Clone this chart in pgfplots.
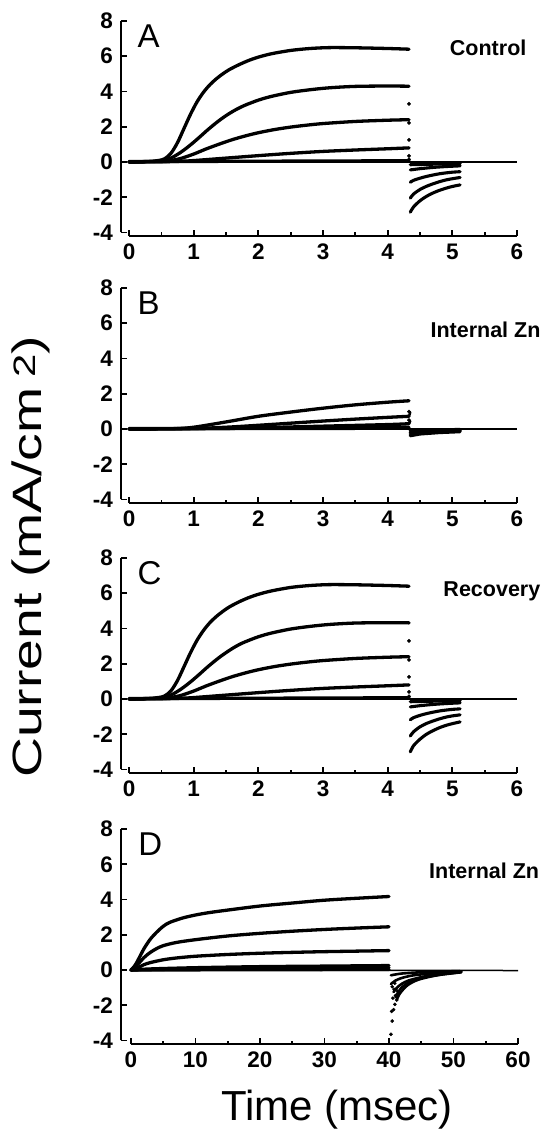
\documentclass[border=0pt]{standalone}
\usepackage{graphicx}
\usepackage{pgfplots}
\pgfplotsset{compat=1.18}
\usepackage{fontspec}
\setmainfont{Liberation Sans}
\newcommand\tickfont{\fontsize{22.5}{22.5}\selectfont\bfseries}
\newcommand\tagfont{\fontsize{21.5}{21.5}\selectfont\bfseries}
\newcommand\letterfont{\fontsize{33}{33}\selectfont}
\begin{document}
\begin{tikzpicture}
\pgfplotsset{
 panel/.style={
  scale only axis, width=396pt, height=215pt,
  xmin=-0.124, xmax=6, ymin=-4.2, ymax=8,
  axis x line*=bottom, axis y line*=left,
  axis line style={draw=none},
  tick align=inside,
  xtick={0,1,2,3,4,5,6}, xticklabels={0,1,2,3,4,5,6},
  minor xtick={0.5,1.5,2.5,3.5,4.5,5.5},
  ytick={-4,-2,0,2,4,6,8}, yticklabels={-4,-2,0,2,4,6,8},
  major tick length=6pt, minor tick length=3.5pt,
  tick style={black, line width=1.7pt},
  ticklabel style={font=\tickfont, inner sep=0pt},
  xticklabel style={anchor=north, yshift=-8pt},
  yticklabel style={anchor=east, xshift=-8pt},
  clip=false,
  anchor=north west,
 },
 curve/.style={black, line width=3.3pt, line join=round, line cap=round, mark=none, smooth, tension=0.5},
 seg/.style={black, line width=3.3pt, line join=round, line cap=round, mark=none},
 tail/.style={black, line width=3.1pt, line join=round, line cap=round, mark=none, smooth, tension=0.5},
 base/.style={black, line width=1.5pt, mark=none},
 dots/.style={black, only marks, mark=*, mark size=1.7pt},
}
\path[use as bounding box] (-121pt,21pt) rectangle (425pt,-1109pt);

% ---------------- Panel A ----------------
\begin{axis}[panel, at={(0pt,0pt)}]
\addplot[base] coordinates {(0,0)(6,0)};
\addplot[curve] coordinates {(0,0)(0.3,0.03)(0.45,0.08)(0.55,0.18)(0.65,0.5)(0.75,1.1)(0.85,1.9)(0.95,2.7)(1.05,3.4)(1.15,3.95)(1.25,4.38)(1.35,4.72)(1.45,5.0)(1.55,5.24)(1.7,5.52)(1.85,5.76)(2.0,5.95)(2.2,6.14)(2.5,6.33)(2.8,6.44)(3.1,6.49)(3.5,6.48)(4.0,6.44)(4.33,6.4)};
\addplot[curve] coordinates {(0,0)(0.5,0.05)(0.6,0.15)(0.7,0.32)(0.8,0.55)(0.9,0.82)(1.0,1.12)(1.1,1.44)(1.2,1.77)(1.3,2.08)(1.4,2.37)(1.5,2.63)(1.6,2.86)(1.7,3.06)(1.8,3.23)(2.0,3.51)(2.2,3.72)(2.5,3.95)(2.8,4.1)(3.1,4.21)(3.5,4.29)(4.0,4.31)(4.33,4.3)};
\addplot[curve] coordinates {(0,0)(0.5,0.02)(0.6,0.05)(0.8,0.2)(1.0,0.45)(1.2,0.75)(1.4,1.02)(1.6,1.27)(1.8,1.48)(2.0,1.66)(2.25,1.84)(2.5,1.98)(2.75,2.09)(3.0,2.18)(3.5,2.3)(4.0,2.37)(4.33,2.4)};
\addplot[curve] coordinates {(0,0)(0.6,0.02)(0.8,0.04)(1.0,0.08)(1.5,0.22)(2.0,0.36)(2.5,0.49)(3.0,0.6)(3.5,0.68)(4.0,0.75)(4.33,0.8)};
\addplot[seg] coordinates {(0,0.02)(4.33,0.07)};
\addplot[dots] coordinates {(4.33,3.3)(4.33,2.22)(4.33,1.25)(4.33,0.35)(4.33,0.15)};
\addplot[tail] coordinates {(4.35,-2.85)(4.4,-2.55)(4.5,-2.2)(4.6,-1.95)(4.7,-1.76)(4.8,-1.61)(4.9,-1.49)(5.0,-1.39)(5.12,-1.3)};
\addplot[tail] coordinates {(4.35,-2.05)(4.4,-1.82)(4.5,-1.56)(4.6,-1.38)(4.7,-1.24)(4.8,-1.12)(4.9,-1.02)(5.0,-0.95)(5.12,-0.88)};
\addplot[tail] coordinates {(4.35,-1.15)(4.4,-1.04)(4.5,-0.92)(4.6,-0.82)(4.7,-0.74)(4.8,-0.67)(4.9,-0.62)(5.0,-0.58)(5.12,-0.55)};
\addplot[tail] coordinates {(4.35,-0.45)(4.5,-0.38)(4.7,-0.31)(4.9,-0.26)(5.12,-0.22)};
\addplot[seg] coordinates {(4.35,-0.15)(4.7,-0.12)(5.12,-0.1)};
\draw[line width=1.7pt] (axis cs:0,-4.2) -- (axis cs:6,-4.2);
\draw[line width=1.7pt] (axis cs:-0.124,-4) -- (axis cs:-0.124,8);
\node[anchor=north west, inner sep=0pt, font=\letterfont] at (axis cs:0.13,7.8) {A};
\node[anchor=north west, inner sep=0pt, font=\tagfont] at (axis cs:4.96,6.95) {Control};
\end{axis}

% ---------------- Panel B ----------------
\begin{axis}[panel, at={(0pt,-267pt)}]
\addplot[base] coordinates {(0,0)(6,0)};
\addplot[curve] coordinates {(0,0)(0.7,0.02)(1.0,0.1)(1.5,0.4)(2.0,0.72)(2.5,0.96)(3.0,1.18)(3.5,1.37)(4.0,1.52)(4.33,1.6)};
\addplot[curve] coordinates {(0,0)(1.0,0.03)(1.5,0.1)(2.0,0.21)(2.5,0.33)(3.0,0.45)(3.5,0.56)(4.0,0.66)(4.33,0.72)};
\addplot[seg, line width=2.4pt] coordinates {(4.33,0.72)(4.35,0.95)};
\addplot[curve] coordinates {(0,0)(1.5,0.03)(2.0,0.07)(3.0,0.16)(4.0,0.25)(4.33,0.3)};
\addplot[seg, line width=2.4pt] coordinates {(4.33,0.3)(4.35,0.45)};
\addplot[seg] coordinates {(0,0)(4.33,0.1)};
\addplot[seg] coordinates {(0,0.02)(4.33,0.04)};
\addplot[dots] coordinates {(4.33,0.98)(4.33,0.5)};
\addplot[seg] coordinates {(4.35,-0.38)(4.5,-0.28)(4.8,-0.2)(5.12,-0.15)};
\addplot[seg] coordinates {(4.35,-0.28)(4.6,-0.18)(5.12,-0.1)};
\addplot[seg] coordinates {(4.35,-0.18)(5.12,-0.06)};
\addplot[seg] coordinates {(4.35,-0.1)(5.12,-0.03)};
\draw[line width=1.7pt] (axis cs:0,-4.2) -- (axis cs:6,-4.2);
\draw[line width=1.7pt] (axis cs:-0.124,-4) -- (axis cs:-0.124,8);
\node[anchor=north west, inner sep=0pt, font=\letterfont] at (axis cs:0.13,7.8) {B};
\node[anchor=north west, inner sep=0pt, font=\tagfont] at (axis cs:4.66,6.06) {Internal Zn};
\end{axis}

% ---------------- Panel C ----------------
\begin{axis}[panel, at={(0pt,-537pt)}]
\addplot[base] coordinates {(0,0)(6,0)};
\addplot[curve] coordinates {(0,0)(0.3,0.03)(0.45,0.08)(0.55,0.17)(0.65,0.47)(0.75,1.05)(0.85,1.83)(0.95,2.62)(1.05,3.32)(1.15,3.88)(1.25,4.33)(1.35,4.68)(1.45,4.97)(1.55,5.22)(1.7,5.51)(1.85,5.75)(2.0,5.94)(2.2,6.13)(2.5,6.33)(2.8,6.44)(3.1,6.49)(3.5,6.48)(4.0,6.44)(4.33,6.4)};
\addplot[curve] coordinates {(0,0)(0.5,0.05)(0.6,0.15)(0.7,0.32)(0.8,0.55)(0.9,0.82)(1.0,1.12)(1.1,1.44)(1.2,1.77)(1.3,2.08)(1.4,2.37)(1.5,2.63)(1.6,2.87)(1.7,3.08)(1.8,3.25)(2.0,3.53)(2.2,3.74)(2.5,3.97)(2.8,4.12)(3.1,4.23)(3.5,4.31)(4.0,4.33)(4.33,4.32)};
\addplot[curve] coordinates {(0,0)(0.5,0.02)(0.6,0.05)(0.8,0.2)(1.0,0.45)(1.2,0.75)(1.4,1.02)(1.6,1.27)(1.8,1.48)(2.0,1.66)(2.25,1.84)(2.5,1.98)(2.75,2.09)(3.0,2.18)(3.5,2.3)(4.0,2.37)(4.33,2.4)};
\addplot[curve] coordinates {(0,0)(0.6,0.02)(0.8,0.04)(1.0,0.08)(1.5,0.22)(2.0,0.36)(2.5,0.49)(3.0,0.6)(3.5,0.68)(4.0,0.75)(4.33,0.8)};
\addplot[seg] coordinates {(0,0.02)(4.33,0.07)};
\addplot[dots] coordinates {(4.33,3.3)(4.33,2.22)(4.33,1.25)(4.33,0.4)(4.33,0.15)};
\addplot[tail] coordinates {(4.35,-3.0)(4.4,-2.65)(4.5,-2.28)(4.6,-2.0)(4.7,-1.8)(4.8,-1.63)(4.9,-1.5)(5.0,-1.4)(5.12,-1.3)};
\addplot[tail] coordinates {(4.35,-2.1)(4.4,-1.86)(4.5,-1.58)(4.6,-1.39)(4.7,-1.25)(4.8,-1.13)(4.9,-1.03)(5.0,-0.96)(5.12,-0.9)};
\addplot[tail] coordinates {(4.35,-1.18)(4.4,-1.06)(4.5,-0.93)(4.6,-0.83)(4.7,-0.75)(4.8,-0.68)(4.9,-0.63)(5.0,-0.59)(5.12,-0.56)};
\addplot[tail] coordinates {(4.35,-0.45)(4.5,-0.38)(4.7,-0.31)(4.9,-0.26)(5.12,-0.22)};
\addplot[seg] coordinates {(4.35,-0.15)(4.7,-0.12)(5.12,-0.1)};
\draw[line width=1.7pt] (axis cs:0,-4.2) -- (axis cs:6,-4.2);
\draw[line width=1.7pt] (axis cs:-0.124,-4) -- (axis cs:-0.124,8);
\node[anchor=north west, inner sep=0pt, font=\letterfont] at (axis cs:0.13,7.8) {C};
\node[anchor=north west, inner sep=0pt, font=\tagfont] at (axis cs:4.86,6.68) {Recovery};
\end{axis}

% ---------------- Panel D ----------------
\begin{axis}[panel, at={(0pt,-808pt)}, width=397pt,
  xmin=-1.55, xmax=60,
  xtick={0,10,20,30,40,50,60}, xticklabels={0,10,20,30,40,50,60},
  minor xtick={5,15,25,35,45,55}]
\addplot[base] coordinates {(0,0)(60,-0.03)};
\addplot[curve] coordinates {(0,0)(0.5,0.2)(1,0.5)(2,1.2)(3,1.75)(4,2.15)(5,2.48)(6,2.7)(8,2.95)(10,3.12)(12,3.25)(15,3.4)(20,3.63)(25,3.8)(30,3.96)(35,4.07)(40,4.17)};
\addplot[curve] coordinates {(0,0)(1,0.3)(2,0.7)(3,1.0)(4,1.22)(5,1.38)(7,1.56)(10,1.72)(15,1.93)(20,2.08)(25,2.2)(30,2.3)(35,2.38)(40,2.45)};
\addplot[curve] coordinates {(0,0)(1,0.12)(2,0.3)(3,0.42)(5,0.58)(7,0.68)(10,0.78)(15,0.88)(20,0.95)(25,1.0)(30,1.04)(35,1.07)(40,1.1)};
\addplot[curve] coordinates {(0,0)(3,0.06)(10,0.13)(20,0.19)(30,0.22)(40,0.25)};
\addplot[seg] coordinates {(0,0)(10,0.07)(20,0.1)(40,0.13)};
\addplot[seg] coordinates {(0,0)(40,0.03)};
\addplot[dots, mark size=1.6pt] coordinates {(40.3,-3.65)(40.5,-2.9)(40.4,-2.35)(40.7,-2.25)(40.9,-1.95)(40.6,-1.6)(41.0,-1.45)(41.2,-1.7)(40.8,-1.1)(41.3,-1.2)(40.5,-0.95)(40.9,-0.75)};
\addplot[tail, line width=2.6pt] coordinates {(41.2,-1.7)(41.6,-1.38)(42.3,-1.06)(43,-0.83)(44,-0.63)(45,-0.5)(46.5,-0.37)(48,-0.27)(50,-0.18)(51.2,-0.13)};
\addplot[tail, line width=2.6pt] coordinates {(41,-1.55)(41.5,-1.22)(42,-0.98)(43,-0.72)(44,-0.56)(45.5,-0.42)(47,-0.31)(49,-0.21)(51.2,-0.12)};
\addplot[tail, line width=2.6pt] coordinates {(40.7,-1.25)(41.3,-0.98)(42,-0.78)(43,-0.6)(44.5,-0.45)(46,-0.33)(48,-0.22)(51.2,-0.1)};
\addplot[tail, line width=2.6pt] coordinates {(40.3,-0.8)(41,-0.6)(42,-0.45)(43.5,-0.32)(45,-0.25)(48,-0.15)(51.2,-0.08)};
\addplot[tail, line width=2.6pt] coordinates {(40.3,-0.3)(42,-0.2)(45,-0.13)(51,-0.06)};
\draw[line width=1.7pt] (axis cs:0,-4.2) -- (axis cs:60,-4.2);
\draw[line width=1.7pt] (axis cs:-1.55,-4) -- (axis cs:-1.55,8);
\node[anchor=north west, inner sep=0pt, font=\letterfont] at (axis cs:1.1,7.8) {D};
\node[anchor=north west, inner sep=0pt, font=\tagfont] at (axis cs:46.2,6.06) {Internal Zn};
\end{axis}

% ---------------- Axis titles ----------------
\node[rotate=90, anchor=base, inner sep=0pt] at (-79pt,-536pt)
  {\scalebox{1.35}[1]{\fontsize{41}{41}\selectfont Current (mA/cm\,\raisebox{6pt}{\fontsize{31}{31}\selectfont 2})}};
\node[anchor=base, inner sep=0pt] at (216pt,-1099pt)
  {\fontsize{42}{42}\selectfont Time (msec)};
\end{tikzpicture}
\end{document}
